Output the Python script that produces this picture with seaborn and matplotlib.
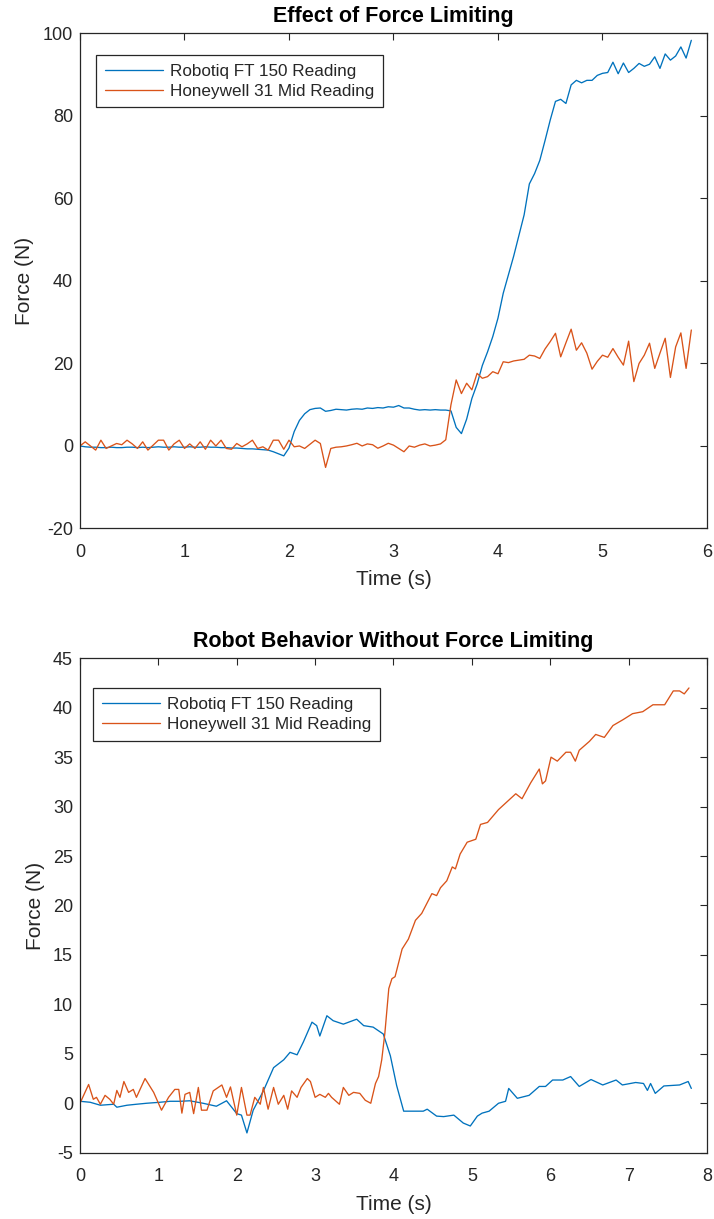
import numpy as np
import pandas as pd
import matplotlib
matplotlib.use("Agg")
import matplotlib.pyplot as plt
import seaborn as sns

# Effect of Force Limiting -- both sensors sampled every 0.05 s
top_dt = 0.05
top_robotiq = [
    0.0, -0.2, -0.3, -0.3, -0.4, -0.4, -0.3, -0.4, -0.4, -0.3,
    -0.3, -0.4, -0.3, -0.4, -0.3, -0.2, -0.3, -0.3, -0.2, -0.3,
    -0.3, -0.2, -0.3, -0.3, -0.2, -0.3, -0.3, -0.4, -0.4, -0.5,
    -0.5, -0.6, -0.7, -0.7, -0.8, -0.9, -1.0, -1.4, -1.9, -2.4,
    -0.5, 3.5, 6.2, 7.8, 8.8, 9.1, 9.2, 8.4, 8.6, 8.9,
    8.8, 8.7, 8.9, 9.0, 8.9, 9.2, 9.1, 9.3, 9.2, 9.5,
    9.4, 9.8, 9.2, 9.2, 8.9, 8.7, 8.8, 8.7, 8.8, 8.7,
    8.7, 8.5, 4.5, 3.0, 6.5, 11.5, 15.0, 19.5, 22.8, 26.5,
    31.0, 37.0, 41.5, 46.0, 51.0, 56.0, 63.5, 66.0, 69.2, 74.0,
    79.0, 83.5, 84.0, 83.0, 87.5, 88.6, 88.0, 88.6, 88.6, 89.8,
    90.3, 90.5, 93.0, 90.2, 92.8, 90.5, 91.5, 92.7, 92.0, 92.5,
    94.3, 91.5, 95.0, 93.5, 94.5, 96.7, 94.0, 98.3,
]
top_honeywell = [
    0.0, 1.0, 0.0, -1.0, 1.4, -0.6, 0.0, 0.6, 0.3, 1.4,
    0.5, -0.6, 1.0, -1.0, 0.2, 1.4, 1.4, -1.0, 0.5, 1.4,
    -0.6, 0.5, -0.6, 1.0, -0.8, 1.4, 0.0, 1.4, -0.6, -0.8,
    0.6, -0.2, 0.5, 1.4, -0.6, -0.2, -1.0, 1.4, 1.4, -0.8,
    1.4, -0.2, 0.0, -0.6, 0.4, 1.4, 0.6, -5.2, -0.6, -0.3,
    -0.2, 0.0, 0.3, 0.65, 0.0, 0.5, 0.3, -0.55, 0.0, 0.65,
    0.2, -0.6, -1.4, 0.0, -0.3, 0.2, 0.5, 0.0, 0.2, 0.5,
    1.5, 10.0, 16.0, 12.7, 15.2, 13.6, 17.6, 16.4, 16.8, 18.0,
    17.5, 20.4, 20.2, 20.6, 20.8, 21.0, 22.0, 21.8, 21.2, 23.5,
    25.3, 27.3, 21.6, 25.0, 28.3, 23.2, 25.0, 22.5, 18.6, 20.5,
    22.0, 21.5, 23.6, 21.5, 19.6, 25.4, 15.6, 20.0, 22.0, 24.9,
    18.8, 22.5, 26.1, 16.6, 24.0, 27.4, 18.8, 28.1,
]

# Robot Behavior Without Force Limiting -- read point by point
bot_robotiq_t = [
    0.00, 0.13, 0.26, 0.43, 0.47, 0.60, 0.72, 0.85, 1.02, 1.15,
    1.28, 1.40, 1.57, 1.74, 1.87, 2.00, 2.06, 2.13, 2.21, 2.34,
    2.47, 2.60, 2.68, 2.77, 2.85, 2.96, 3.02, 3.06, 3.15, 3.23,
    3.36, 3.53, 3.62, 3.74, 3.87, 3.96, 4.04, 4.13, 4.38, 4.43,
    4.55, 4.64, 4.77, 4.89, 4.98, 5.07, 5.13, 5.22, 5.34, 5.43,
    5.47, 5.58, 5.73, 5.86, 5.94, 6.03, 6.16, 6.26, 6.37, 6.52,
    6.67, 6.84, 6.92, 7.09, 7.19, 7.24, 7.28, 7.34, 7.45, 7.65,
    7.76, 7.80,
]
bot_robotiq = [
    0.2, 0.1, -0.2, -0.1, -0.4, -0.2, -0.1, 0.0, 0.1, 0.2,
    0.2, 0.25, 0.0, -0.3, 0.25, -1.05, -1.2, -3.0, -0.7, 1.25,
    3.6, 4.4, 5.15, 4.9, 6.2, 8.2, 7.85, 6.8, 8.85, 8.35,
    8.0, 8.5, 7.85, 7.7, 7.0, 4.8, 1.8, -0.8, -0.8, -0.6,
    -1.3, -1.35, -1.2, -2.0, -2.3, -1.3, -1.0, -0.8, 0.0, 0.2,
    1.5, 0.5, 0.8, 1.7, 1.7, 2.35, 2.35, 2.7, 1.7, 2.4,
    1.85, 2.35, 1.85, 2.1, 2.0, 1.3, 2.0, 1.0, 1.75, 1.85,
    2.2, 1.5,
]
bot_honeywell_t = [
    0.00, 0.11, 0.17, 0.21, 0.26, 0.32, 0.38, 0.43, 0.47, 0.51,
    0.56, 0.62, 0.68, 0.72, 0.83, 0.94, 1.04, 1.13, 1.21, 1.26,
    1.30, 1.34, 1.40, 1.45, 1.51, 1.55, 1.62, 1.70, 1.81, 1.87,
    1.92, 2.00, 2.06, 2.13, 2.17, 2.23, 2.30, 2.34, 2.40, 2.47,
    2.53, 2.60, 2.65, 2.70, 2.77, 2.82, 2.90, 2.94, 3.00, 3.06,
    3.13, 3.17, 3.21, 3.31, 3.36, 3.43, 3.49, 3.57, 3.64, 3.71,
    3.77, 3.81, 3.85, 3.89, 3.94, 3.98, 4.02, 4.11, 4.19, 4.28,
    4.36, 4.49, 4.55, 4.60, 4.68, 4.75, 4.79, 4.85, 4.94, 5.05,
    5.11, 5.20, 5.34, 5.56, 5.64, 5.75, 5.86, 5.90, 5.94, 6.01,
    6.09, 6.20, 6.26, 6.32, 6.37, 6.50, 6.58, 6.69, 6.80, 6.93,
    7.05, 7.18, 7.31, 7.46, 7.57, 7.65, 7.71, 7.77,
]
bot_honeywell = [
    0.0, 1.9, 0.4, 0.6, -0.1, 0.8, 0.4, -0.1, 1.3, 0.6,
    2.2, 1.1, 1.4, 0.6, 2.5, 1.1, -0.7, 0.6, 1.4, 1.4,
    -1.0, 0.9, 1.1, -1.05, 1.6, -0.7, -0.7, 1.25, 1.85, 0.6,
    1.65, -1.2, 1.6, -1.2, -1.2, 0.6, -0.1, 1.6, -0.6, 1.6,
    -0.1, 0.8, -0.6, 1.25, 0.6, 1.6, 2.5, 2.2, 0.6, 0.9,
    0.6, 1.0, 0.6, -0.1, 1.6, 0.8, 1.1, 1.0, 0.3, 0.0,
    2.0, 2.7, 4.4, 7.1, 11.6, 12.6, 12.8, 15.6, 16.6, 18.5,
    19.2, 21.2, 21.0, 21.8, 22.5, 23.9, 23.7, 25.2, 26.4, 26.7,
    28.2, 28.4, 29.7, 31.3, 30.8, 32.4, 33.8, 32.3, 32.6, 35.0,
    34.6, 35.5, 35.5, 34.6, 35.7, 36.6, 37.3, 37.0, 38.2, 38.8,
    39.4, 39.6, 40.3, 40.3, 41.7, 41.7, 41.4, 42.0,
]

sensors = ["Robotiq FT 150 Reading", "Honeywell 31 Mid Reading"]
line_colors = ["#0072BD", "#D95319"]
dark = "#262626"

sns.set_style("white")
plt.rcParams["font.family"] = ["Liberation Sans", "DejaVu Sans"]
plt.rcParams["axes.unicode_minus"] = False


def long_frame(t_a, v_a, t_b, v_b):
    return pd.DataFrame({
        "Time": list(t_a) + list(t_b),
        "Force": list(v_a) + list(v_b),
        "Sensor": [sensors[0]] * len(v_a) + [sensors[1]] * len(v_b),
    })


def draw_panel(ax, df, title, xmax, ylim, ystep, legend_anchor):
    sns.lineplot(data=df, x="Time", y="Force", hue="Sensor", hue_order=sensors,
                 palette=line_colors, estimator=None, sort=False, linewidth=0.95, ax=ax)
    ax.set_xlim(0, xmax)
    ax.set_ylim(*ylim)
    ax.set_xticks(range(0, xmax + 1))
    ax.set_yticks(range(ylim[0], ylim[1] + 1, ystep))
    ax.tick_params(direction="in", length=5, width=0.8, top=True, right=True,
                   colors=dark, labelsize=13)
    ax.tick_params(axis="x", pad=11)
    ax.tick_params(axis="y", pad=5)
    for sp in ax.spines.values():
        sp.set_color(dark)
        sp.set_linewidth(0.9)
    ax.set_xlabel("Time (s)", fontsize=15, color=dark, labelpad=7)
    ax.set_ylabel("Force (N)", fontsize=15, color=dark, labelpad=6)
    ax.set_title(title, fontsize=15.5, fontweight="bold", color="black", pad=8)

    handles, labels = ax.get_legend_handles_labels()
    leg = ax.legend(handles, labels, loc="upper left", bbox_to_anchor=legend_anchor,
                    borderaxespad=0, frameon=True, fancybox=False, framealpha=1,
                    edgecolor=dark, fontsize=12.3, handlelength=3.4,
                    handletextpad=0.45, borderpad=0.5, labelspacing=0.3)
    leg.get_frame().set_linewidth(0.9)
    for txt in leg.get_texts():
        txt.set_color(dark)


fig = plt.figure(figsize=(7.14, 12.19), dpi=100)
ax_top = fig.add_axes([0.11204, 0.56645, 0.87815, 0.40623])
ax_bot = fig.add_axes([0.11204, 0.05439, 0.87815, 0.40558])

top_time = np.round(np.arange(len(top_robotiq)) * top_dt, 2)
df_top = long_frame(top_time, top_robotiq, top_time, top_honeywell)
df_bot = long_frame(bot_robotiq_t, bot_robotiq, bot_honeywell_t, bot_honeywell)

draw_panel(ax_top, df_top, "Effect of Force Limiting", 6, (-20, 100), 20, (0.0255, 0.956))
draw_panel(ax_bot, df_bot, "Robot Behavior Without Force Limiting", 8, (-5, 45), 5, (0.0207, 0.939))

fig.savefig("out.png", dpi=100)
